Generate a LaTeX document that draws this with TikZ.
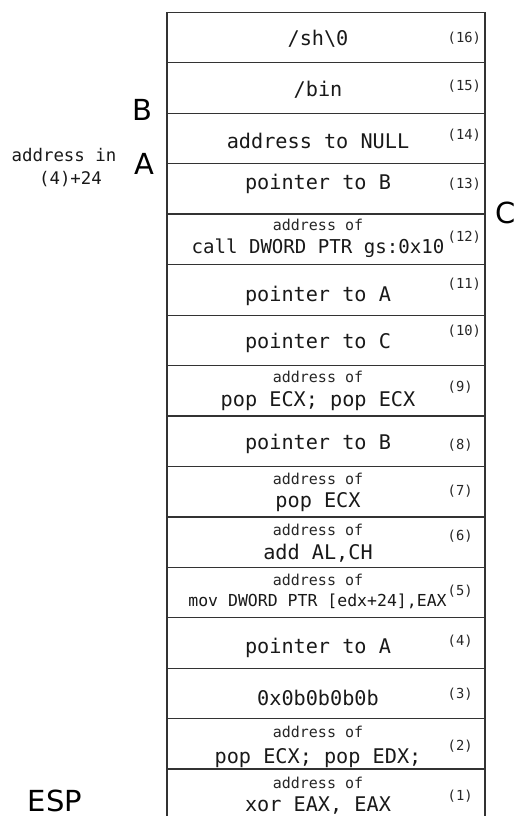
\documentclass[tikz,border=0pt]{standalone}
\usepackage{fontspec}
\setmonofont{DejaVu Sans Mono}
\setsansfont{DejaVu Sans}
\tikzset{
  celltext/.style={font=\fontsize{20.2bp}{24bp}\selectfont\ttfamily, anchor=base, inner sep=0pt, text=black!90},
  calltext/.style={font=\fontsize{19.1bp}{23bp}\selectfont\ttfamily, anchor=base, inner sep=0pt, text=black!90},
  movtext/.style={font=\fontsize{16.5bp}{20bp}\selectfont\ttfamily, anchor=base, inner sep=0pt, text=black!90},
  smalltext/.style={font=\fontsize{15bp}{18bp}\selectfont\ttfamily, anchor=base, inner sep=0pt, text=black!85},
  numtext/.style={font=\fontsize{13.8bp}{16bp}\selectfont\ttfamily, anchor=base west, inner sep=0pt, text=black!85},
  sidetext/.style={font=\fontsize{17.4bp}{20bp}\selectfont\ttfamily, anchor=base, inner sep=0pt, text=black!90},
  biglabel/.style={font=\fontsize{29bp}{34bp}\selectfont\sffamily, anchor=base, inner sep=0pt, text=black},
  cellline/.style={line width=1.3bp, draw=black!80}
}
\begin{document}
\begin{tikzpicture}[x=1bp,y=-1bp]
\clip (0,0) rectangle (516,816);
\fill[white] (0,0) rectangle (516,816);
% stack frame
\draw[cellline] (167,12.7) rectangle (485,819.5);
\foreach \yy in {62.3,113.3,163.3,214,264.3,315.7,365.7,416,466.7,517,567.3,617.7,668.3,718.3,769}
  \draw[cellline] (167,\yy) -- (485,\yy);
% row 16
\node[celltext] (t16) at (318,45.7) {/sh\textbackslash 0};
\node[numtext] (n16) at (447.5,42.7) {(16)};
% row 15
\node[celltext] (t15) at (318,96.5) {/bin};
\node[numtext] (n15) at (447.5,90.5) {(15)};
% row 14
\node[celltext] (t14) at (318,148) {address to NULL};
\node[numtext] (n14) at (447.5,139.5) {(14)};
% row 13
\node[celltext] (t13) at (318,189.3) {pointer to B};
\node[numtext] (n13) at (447.5,188.3) {(13)};
% row 12
\node[smalltext] (s12) at (318,230.7) {address of};
\node[calltext] (t12) at (318,253.3) {call DWORD PTR gs:0x10};
\node[numtext] (n12) at (447.5,241.7) {(12)};
% row 11
\node[celltext] (t11) at (318,301) {pointer to A};
\node[numtext] (n11) at (447.5,288.5) {(11)};
% row 10
\node[celltext] (t10) at (318,348) {pointer to C};
\node[numtext] (n10) at (447.5,335) {(10)};
% row 9
\node[smalltext] (s9) at (318,382.7) {address of};
\node[celltext] (t9) at (318,406.7) {pop ECX; pop ECX};
\node[numtext] (n9) at (447.5,391.7) {(9)};
% row 8
\node[celltext] (t8) at (318,449) {pointer to B};
\node[numtext] (n8) at (447.5,449) {(8)};
% row 7
\node[smalltext] (s7) at (318,484.5) {address of};
\node[celltext] (t7) at (318,507.5) {pop ECX};
\node[numtext] (n7) at (447.5,495) {(7)};
% row 6
\node[smalltext] (s6) at (318,535) {address of};
\node[celltext] (t6) at (318,559.5) {add AL,CH};
\node[numtext] (n6) at (447.5,540.5) {(6)};
% row 5
\node[smalltext] (s5) at (318,585) {address of};
\node[movtext] (t5) at (317.5,606.7) {mov DWORD PTR [edx+24],EAX};
\node[numtext] (n5) at (447.5,595) {(5)};
% row 4
\node[celltext] (t4) at (318,653.3) {pointer to A};
\node[numtext] (n4) at (447.5,645) {(4)};
% row 3
\node[celltext] (t3) at (318,705) {0x0b0b0b0b};
\node[numtext] (n3) at (447.5,698.5) {(3)};
% row 2
\node[smalltext] (s2) at (318,737.7) {address of};
\node[celltext] (t2) at (318,763.3) {pop ECX; pop EDX;};
\node[numtext] (n2) at (447.5,750) {(2)};
% row 1
\node[smalltext] (s1) at (318,788.3) {address of};
\node[celltext] (t1) at (318,811.8) {xor EAX, EAX};
\node[numtext] (n1) at (447.5,800) {(1)};
% side labels
\node[biglabel] (lB) at (142.5,120) {B};
\node[biglabel] (lA) at (144,174.5) {A};
\node[biglabel] (lC) at (506,223) {C};
\node[biglabel] (lESP) at (55,811) {ESP};
\node[sidetext] (addrin) at (64,161) {address in};
\node[sidetext] (addrplus) at (70.5,184) {(4)+24};
\end{tikzpicture}
\end{document}
